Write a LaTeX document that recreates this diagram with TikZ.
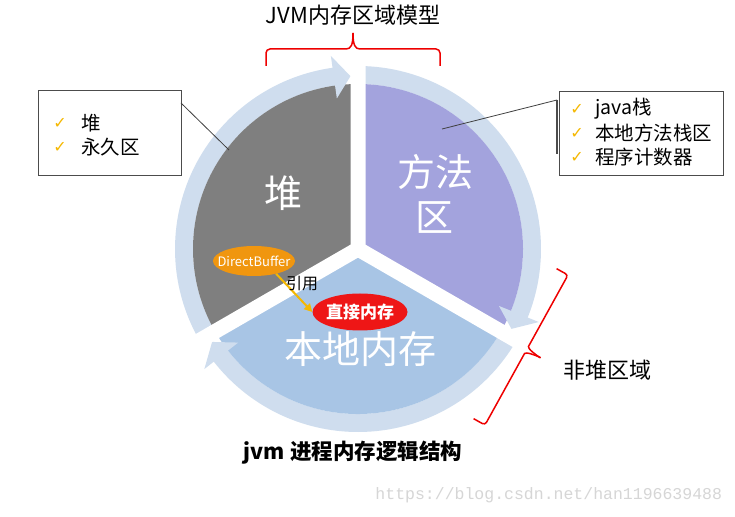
\documentclass[tikz,border=0pt]{standalone}
\usepackage{fontspec}
\setmainfont{Noto Sans CJK SC}
\newfontfamily\symfont{DejaVu Sans}
\newfontfamily\wmfont{Liberation Mono}
\usetikzlibrary{shapes.geometric,arrows.meta}
\definecolor{ringc}{HTML}{CFDDEE}
\definecolor{heapc}{HTML}{7F7F7F}
\definecolor{methc}{HTML}{A3A3DD}
\definecolor{natc}{HTML}{A8C5E5}
\definecolor{dbc}{HTML}{F0960F}
\definecolor{dmc}{HTML}{EE1616}
\definecolor{goldc}{HTML}{F5B800}
\definecolor{bracec}{HTML}{EE0000}
\definecolor{wmc}{HTML}{D6D6D6}
\tikzset{
  txt/.style={inner sep=0pt, outer sep=0pt},
  infobox/.style={draw=black!70, line width=1pt, fill=white, inner sep=0pt},
  bracestyle/.style={draw=bracec, line width=1.5pt},
  ck/.style={txt, text=goldc, font=\symfont\fontsize{16}{18}\selectfont},
  boxtxt/.style={txt, anchor=west, font=\fontsize{19.5}{24}\selectfont},
  sectxt/.style={txt, text=white, font=\fontsize{38}{46}\selectfont},
  gapline/.style={white, line width=15pt, line cap=round},
  ringseg/.style={ringc, line width=18pt},
  callout/.style={draw=black!75, line width=0.8pt},
}
\begin{document}
\begin{tikzpicture}[x=1pt,y=1pt]
\useasboundingbox (0,0) rectangle (735,516);
\fill[white] (0,0) rectangle (735,516);

% ring, pie and gaps
\begin{scope}[shift={(358,267)}]
  \draw[ringseg] (210:174) arc[start angle=210,end angle=97.5,radius=174];
  \draw[ringseg] (90:174) arc[start angle=90,end angle=-22.5,radius=174];
  \draw[ringseg] (-30:174) arc[start angle=-30,end angle=-142.5,radius=174];
  \fill[heapc] (0,0) -- (90:165) arc[start angle=90,end angle=210,radius=165] -- cycle;
  \fill[methc] (0,0) -- (90:165) arc[start angle=90,end angle=-30,radius=165] -- cycle;
  \fill[natc] (0,0) -- (-30:165) arc[start angle=-30,end angle=-150,radius=165] -- cycle;
  \fill[ringc] (92.5:173) -- (98:152) -- (98:195) -- cycle;
  \fill[ringc] (-27.5:173) -- (-22:152) -- (-22:195) -- cycle;
  \fill[ringc] (-147.5:173) -- (-142:152) -- (-142:195) -- cycle;
  \draw[gapline] (0,0) -- (90:205) (0,0) -- (210:205) (0,0) -- (-30:205);
\end{scope}

% sector labels
\node[sectxt] (heapt) at (283,323) {堆};
\node[sectxt] (metht1) at (435,344) {方法};
\node[sectxt] (metht2) at (434,298) {区};
\node[sectxt] (natt) at (360,167) {本地内存};

% DirectBuffer -> direct memory
\node[ellipse, fill=dbc, minimum width=82pt, minimum height=30pt, inner sep=0pt] (db) at (254,255) {};
\node[txt, text=white, font=\fontsize{13}{15}\selectfont] (dbt) at (db) {DirectBuffer};
\node[ellipse, fill=dmc, minimum width=95pt, minimum height=37pt, inner sep=0pt] (dm) at (360,204) {};
\node[txt, text=white, font=\bfseries\fontsize{17}{20}\selectfont] (dmt) at (dm) {直接内存};
\draw[goldc, line width=2pt, -{Triangle[length=8pt,width=8pt]}] (db.-30) -- (dm.west);
\node[txt, font=\fontsize{16}{18}\selectfont] (ref) at (302,232) {引用};

% left info box
\node[infobox, minimum width=143pt, minimum height=85pt] (lbox) at (109.5,382.5) {};
\node[ck] (lc1) at (60,393) {✓};
\node[boxtxt] (l1) at (81,393) {堆};
\node[ck] (lc2) at (60,369) {✓};
\node[boxtxt] (l2) at (81,369) {永久区};
\coordinate (lstart) at (181,413);
\coordinate (lend) at (229,366);
\draw[callout] (lstart) -- (lend);

% right info box
\node[infobox, minimum width=164pt, minimum height=84pt] (rbox) at (641,382) {};
\node[ck] (rc1) at (577,407) {✓};
\node[boxtxt] (r1) at (595,407) {java栈};
\node[ck] (rc2) at (577,383) {✓};
\node[boxtxt] (r2) at (595,383) {本地方法栈区};
\node[ck] (rc3) at (577,359) {✓};
\node[boxtxt] (r3) at (595,359) {程序计数器};
\coordinate (rend) at (442,387);
\coordinate (rstart) at (557,416);
\coordinate (rlow) at (557,362);
\draw[callout] (rend) -- (rstart);
\draw[black!70, line width=1.6pt] (rstart) -- (rlow);

% top brace and title
\draw[bracestyle] (266,450) -- (266,463) to[out=90,in=180] (270,467) -- (346,467) .. controls (351,467) and (353,471) .. (353,483);
\draw[bracestyle] (440,450) -- (440,463) to[out=90,in=0] (436,467) -- (360,467) .. controls (355,467) and (353,471) .. (353,483);
\node[txt, font=\fontsize{22}{26}\selectfont] (ttitle) at (353,501) {JVM内存区域模型};

% right brace and label
\draw[bracestyle, rounded corners=3pt] (556.6,247.3) -- (568,241) -- (529.9,172.1) .. controls (527.5,167.75) and (535.25,161.16) .. (540.5,158.25);
\draw[bracestyle, rounded corners=3pt] (473.6,97.3) -- (485,91) -- (523.1,159.9) .. controls (525.53,164.25) and (535.25,161.16) .. (540.5,158.25);
\node[txt, font=\fontsize{22}{26}\selectfont] (nonheap) at (607,146) {非堆区域};

% bottom title and watermark
\node[txt, font=\bfseries\fontsize{21.5}{25}\selectfont] (btitle) at (353,63) {jvm 进程内存逻辑结构};
\node[txt, anchor=east, text=wmc, font=\wmfont\fontsize{16.5}{18}\selectfont] (wm) at (722,21) {https://blog.csdn.net/han1196639488};
\end{tikzpicture}
\end{document}
